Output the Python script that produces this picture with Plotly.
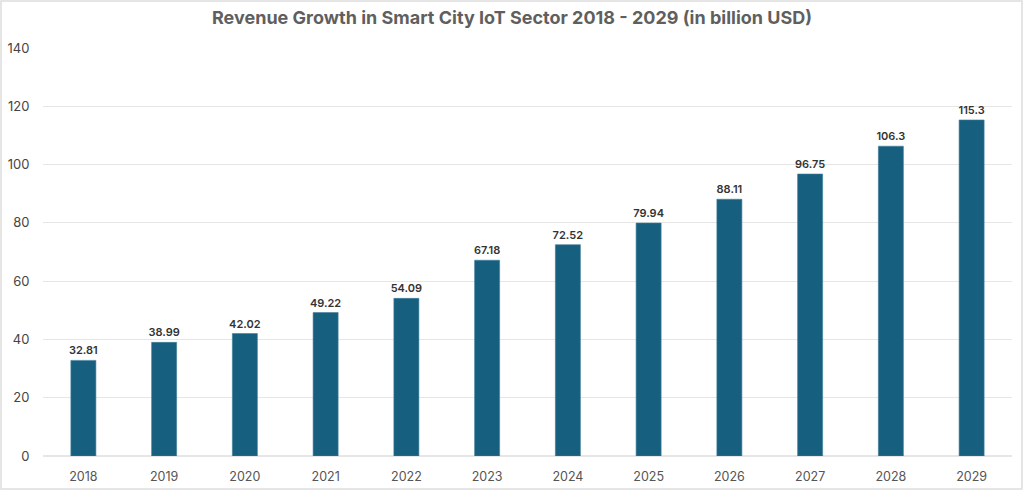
import plotly.graph_objects as go

years = ["2018", "2019", "2020", "2021", "2022", "2023",
         "2024", "2025", "2026", "2027", "2028", "2029"]
revenue = [32.81, 38.99, 42.02, 49.22, 54.09, 67.18,
           72.52, 79.94, 88.11, 96.75, 106.3, 115.3]

W, H = 1024, 490
ml, mr, mt, mb = 43, 12, 48, 34
pw, ph = W - ml - mr, H - mt - mb

fig = go.Figure()
fig.add_trace(go.Bar(
    x=years,
    y=revenue,
    marker=dict(color="#175F7F", line=dict(color="#3f7d98", width=0.6)),
    text=[f"{v:g}" for v in revenue],
    textposition="outside",
    textfont=dict(size=11, color="#333333", family="Inter", weight=600),
    cliponaxis=False,
    hoverinfo="x+y",
))

fig.update_layout(
    width=W,
    height=H,
    margin=dict(l=ml, r=mr, t=mt, b=mb, autoexpand=False),
    paper_bgcolor="white",
    plot_bgcolor="white",
    font=dict(family="Inter", color="#444444", size=13),
    title=dict(
        text="<b>Revenue Growth in Smart City IoT Sector 2018 - 2029 (in billion USD)</b>",
        x=0.5, xanchor="center", y=0.963, yanchor="middle",
        font=dict(size=18, color="#5f5f5f", family="Inter"),
    ),
    uniformtext=dict(minsize=11, mode="show"),
    bargap=0.69,
    showlegend=False,
    xaxis=dict(showgrid=False, showline=False, automargin=False,
               ticks="outside", ticklen=9, tickcolor="rgba(0,0,0,0)",
               tickfont=dict(size=12.5, color="#555555")),
    yaxis=dict(range=[0, 140], dtick=20, showgrid=True, gridcolor="#e6e6e6",
               zeroline=True, zerolinecolor="#e6e6e6", showline=False, automargin=False,
               tickfont=dict(size=13, color="#444444"), ticks="outside",
               ticklen=10, tickcolor="rgba(0,0,0,0)"),
)

# thin frame around the whole picture
fig.add_shape(
    type="rect", xref="paper", yref="paper",
    x0=(1 - ml) / pw, x1=(W - 2 - ml) / pw,
    y0=-(mb - 1) / ph, y1=(ph + mt - 1) / ph,
    line=dict(color="#dddddd", width=1.5),
)

# page body has a default margin; remove it so the figure sits at the corner
fig.write_html("out.html", config={"displayModeBar": False},
               post_script="document.body.style.margin='0';")
